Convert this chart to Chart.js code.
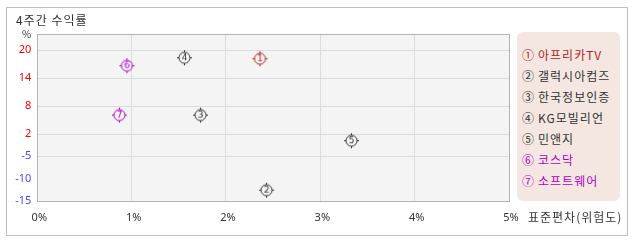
<!DOCTYPE html>
<html>
<head>
<meta charset="utf-8">
<script src="https://cdn.jsdelivr.net/npm/chart.js@4"></script>
<style>
  body { margin: 0; background: #fff; font-family: "Noto Sans CJK KR", "Noto Sans", sans-serif; }
  #wrap { position: relative; width: 638px; height: 242px; overflow: hidden; }
  #frame { position: absolute; left: 6px; top: 7px; width: 620px; height: 227px; border: 1px solid #c0c0c0; background: #fff; }
  #chart { position: absolute; left: 0; top: 0; }
  #title { position: absolute; left: 16px; top: 13px; font-size: 12px; line-height: 14px; color: #333; letter-spacing: 1px; }
  #unit { position: absolute; left: 22px; top: 28px; font-size: 10px; line-height: 12px; color: #333; }
  #xtitle { position: absolute; left: 528px; top: 209px; font-size: 12px; line-height: 15px; color: #333; letter-spacing: 1px; }
  #legend { position: absolute; left: 517px; top: 32px; width: 98px; height: 157px; padding: 12px 0 0 5px;
            background: #f4e7e1; border-radius: 6px; font-size: 12px; line-height: 21px; letter-spacing: 1px; }
  #legend div { white-space: nowrap; }
  #legend .n { margin-right: 3px; }
</style>
</head>
<body>
<div id="wrap">
  <div id="frame"></div>
  <canvas id="chart" width="638" height="242"></canvas>
  <div id="title">4주간 수익률</div>
  <div id="unit">%</div>
  <div id="xtitle">표준편차(위험도)</div>
  <div id="legend"></div>
</div>
<script>
// 종목 / 지수
const names = ["아프리카TV", "갤럭시아컴즈", "한국정보인증", "KG모빌리언", "민앤지", "코스닥", "소프트웨어"];
const marks = ["①", "②", "③", "④", "⑤", "⑥", "⑦"];
// 표준편차(%) , 4주간 수익률(%)
const riskX = [2.36, 2.43, 1.73, 1.56, 3.33, 0.95, 0.87];
const returnY = [18.2, -12.5, 6.1, 18.4, -0.1, 16.7, 6.1];
// 눈금
const xTicks = [0, 1, 2, 3, 4, 5];
const yTicks = [-15, -10, -5, 2, 8, 14, 20];

const colors = ["#b01e1e", "#333333", "#333333", "#333333", "#333333", "#b000c4", "#b000c4"];

// y축은 눈금 간격이 균등하지 않아서 눈금 사이를 구간별로 선형 변환
const yTickPos = [0, 22.3, 45, 67.3, 95, 123, 151];
const yAxisMax = 167.3;

function toAxis(v) {
    for (let i = 0; i < yTicks.length - 1; i++) {
        if (v <= yTicks[i + 1] || i === yTicks.length - 2) {
            const t = (v - yTicks[i]) / (yTicks[i + 1] - yTicks[i]);
            return yTickPos[i] + t * (yTickPos[i + 1] - yTickPos[i]);
        }
    }
}

function tickLabel(pos) {
    const i = yTickPos.findIndex((p) => Math.abs(p - pos) < 0.01);
    return i >= 0 ? String(yTicks[i]) : "";
}

// 원 안에 번호가 들어간 마커
function markerImage(num, color) {
    const c = document.createElement("canvas");
    c.width = 17;
    c.height = 17;
    const g = c.getContext("2d");
    g.strokeStyle = color;
    g.fillStyle = color;
    g.lineWidth = 1;
    g.beginPath();
    g.arc(8.5, 8.5, 5.5, 0, Math.PI * 2);
    g.stroke();
    g.fillRect(8, 1, 1, 2);
    g.fillRect(8, 14, 1, 2);
    g.fillRect(1, 8, 2, 1);
    g.fillRect(14, 8, 2, 1);
    g.font = '9px "DejaVu Sans"';
    g.textAlign = "center";
    g.textBaseline = "middle";
    g.fillText(num, 8.5, 9);
    return c;
}

// 범례
const legend = document.getElementById("legend");
names.forEach((name, i) => {
    const row = document.createElement("div");
    row.style.color = colors[i];
    row.innerHTML = `<span class="n">${marks[i]}</span>${name}`;
    legend.appendChild(row);
});

const datasets = names.map((name, i) => ({
    label: name,
    data: [{ x: riskX[i], y: toAxis(returnY[i]) }],
    pointStyle: markerImage(String(i + 1), colors[i]),
    pointRadius: 7,
    pointHoverRadius: 7,
}));

const plotFrame = {
    id: "plotFrame",
    beforeDraw(chart) {
        const { ctx, chartArea: a } = chart;
        ctx.save();
        ctx.fillStyle = "#f4f4f4";
        ctx.fillRect(a.left, a.top, a.right - a.left, a.bottom - a.top);
        ctx.restore();
    },
    beforeDatasetsDraw(chart) {
        const { ctx, chartArea: a } = chart;
        ctx.save();
        ctx.strokeStyle = "#b4b4b4";
        ctx.lineWidth = 1;
        ctx.strokeRect(Math.round(a.left) + 0.5, Math.round(a.top) + 0.5,
            Math.round(a.right - a.left), Math.round(a.bottom - a.top));
        ctx.restore();
    },
};

new Chart(document.getElementById("chart"), {
    type: "scatter",
    data: { datasets },
    options: {
        responsive: false,
        animation: false,
        events: [],
        layout: { padding: { left: 0, top: 34, right: 129, bottom: 0 } },
        plugins: { legend: { display: false }, tooltip: { enabled: false } },
        scales: {
            x: {
                min: 0,
                max: 5,
                afterBuildTicks: (s) => { s.ticks = xTicks.map((v) => ({ value: v })); },
                afterFit: (s) => { s.height = 40.7; },
                border: { display: false },
                grid: {
                    drawTicks: false,
                    color: (c) => (c.tick && c.tick.value > 0 && c.tick.value < 5 ? "#dcdcdc" : "rgba(0,0,0,0)"),
                },
                ticks: {
                    padding: 10,
                    labelOffset: 2,
                    color: "#333",
                    font: { family: "'Noto Sans', sans-serif", size: 11 },
                    callback: (v) => v + "%",
                },
            },
            y: {
                min: 0,
                max: yAxisMax,
                afterBuildTicks: (s) => { s.ticks = yTickPos.map((p) => ({ value: p })); },
                afterFit: (s) => { s.width = 37.3; },
                border: { display: false },
                grid: {
                    drawTicks: false,
                    color: (c) => {
                        const lbl = c.tick ? tickLabel(c.tick.value) : "";
                        return lbl === "" || lbl === "-15" || lbl === "-10" ? "rgba(0,0,0,0)" : "#dcdcdc";
                    },
                },
                ticks: {
                    padding: 6,
                    color: (c) => (Number(tickLabel(c.tick.value)) < 0 ? "#4646ff" : "#ff0000"),
                    font: { family: "'Noto Sans', sans-serif", size: 11 },
                    callback: (v) => tickLabel(v),
                },
            },
        },
    },
    plugins: [plotFrame],
});
</script>
</body>
</html>
